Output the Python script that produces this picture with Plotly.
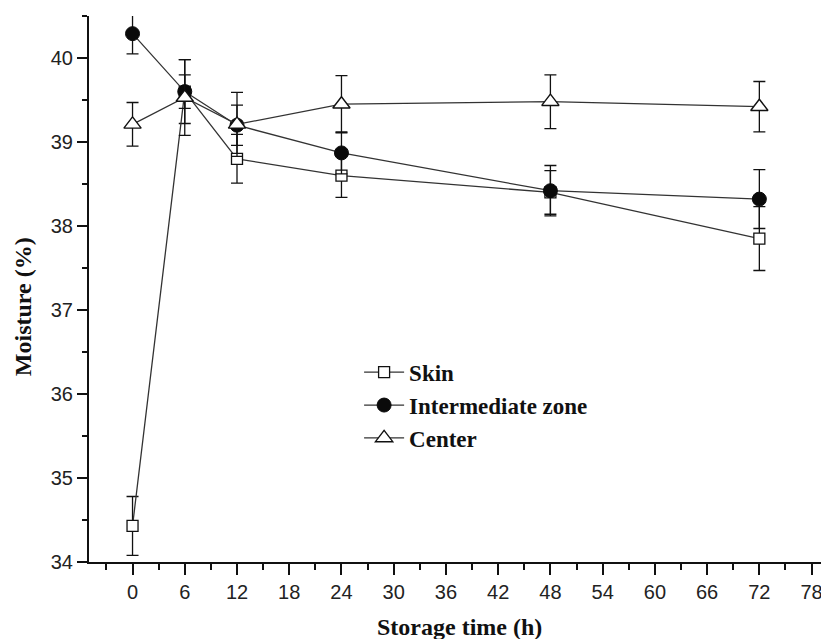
import plotly.graph_objects as go

# Data
hours = [0, 6, 12, 24, 48, 72]
skin = [34.43, 39.60, 38.80, 38.60, 38.40, 37.85]
skin_err = [0.35, 0.38, 0.29, 0.26, 0.26, 0.38]
inter = [40.29, 39.60, 39.20, 38.87, 38.42, 38.32]
inter_err = [0.24, 0.20, 0.24, 0.25, 0.30, 0.35]
center = [39.21, 39.53, 39.21, 39.45, 39.48, 39.42]
center_err = [0.26, 0.45, 0.38, 0.34, 0.32, 0.30]

x_ticks = [0, 6, 12, 18, 24, 30, 36, 42, 48, 54, 60, 66, 72, 78]
y_ticks = [34, 35, 36, 37, 38, 39, 40]

LINE = "#333333"
serif = "Liberation Serif, Times New Roman, serif"
sans = "Liberation Sans, Arial, sans-serif"

def err(vals):
    return dict(type="data", array=vals, visible=True, color="#111111",
                thickness=1.3, width=6)

fig = go.Figure()
fig.add_trace(go.Scatter(
    x=hours, y=skin, name="Skin", mode="lines+markers", legendgroup="a",
    line=dict(color=LINE, width=1.3),
    marker=dict(symbol="square", size=11, color="white",
                line=dict(color="#111111", width=1.3)),
    error_y=err(skin_err)))
fig.add_trace(go.Scatter(
    x=hours, y=inter, name="Intermediate zone", mode="lines+markers", legendgroup="b",
    line=dict(color=LINE, width=1.3),
    marker=dict(symbol="circle", size=14, color="#0a0a0a",
                line=dict(color="#0a0a0a", width=1)),
    error_y=err(inter_err)))
fig.add_trace(go.Scatter(
    x=hours, y=center, name="Center", mode="lines+markers", legendgroup="c",
    line=dict(color=LINE, width=1.3),
    marker=dict(symbol="triangle-up", size=15, color="white",
                line=dict(color="#111111", width=1.4)),
    error_y=err(center_err)))

fig.update_layout(
    width=821, height=631,
    margin=dict(l=81, r=0, t=8, b=77),
    paper_bgcolor="white", plot_bgcolor="white",
    showlegend=True,
    legend=dict(x=0.365, y=0.387, xanchor="left", yanchor="top",
                bgcolor="rgba(0,0,0,0)", tracegroupgap=0,
                font=dict(family=serif, size=23, color="#111111", weight="bold"),
                itemwidth=40),
    font=dict(family=sans, size=20, color="#222222"),
)
fig.update_xaxes(
    range=[-5, 80], tickvals=x_ticks, ticktext=[str(v) for v in x_ticks],
    showline=True, linecolor="#111111", linewidth=2.2,
    ticks="outside", ticklen=11, tickwidth=2, tickcolor="#111111",
    minor=dict(ticks="outside", ticklen=6, tickwidth=2, tickcolor="#111111",
               tickvals=[-3, 3, 9, 15, 21, 27, 33, 39, 45, 51, 57, 63, 69, 75]),
    showgrid=False, zeroline=False,
    tickfont=dict(family=sans, size=20, color="#222222"),
)
fig.update_yaxes(
    range=[34, 40.5], tickvals=y_ticks, ticktext=[str(v) for v in y_ticks],
    showline=True, linecolor="#111111", linewidth=2.2,
    ticks="outside", ticklen=10, tickwidth=2, tickcolor="#111111",
    minor=dict(ticks="outside", ticklen=5, tickwidth=2, tickcolor="#111111",
               tickvals=[34.5, 35.5, 36.5, 37.5, 38.5, 39.5, 40.5]),
    showgrid=False, zeroline=False,
    tickfont=dict(family=sans, size=20, color="#222222"),
)
fig.add_annotation(text="<b>Storage time (h)</b>", xref="paper", yref="paper",
                   x=0.5, y=-0.119, xanchor="center", yanchor="middle", showarrow=False,
                   font=dict(family=serif, size=24, color="#111111"))
fig.add_annotation(text="<b>Moisture (%)</b>", xref="paper", yref="paper",
                   x=-0.089, y=0.467, xanchor="center", yanchor="middle", showarrow=False,
                   textangle=-90, font=dict(family=serif, size=24, color="#111111"))

fig.write_html("out.html")
